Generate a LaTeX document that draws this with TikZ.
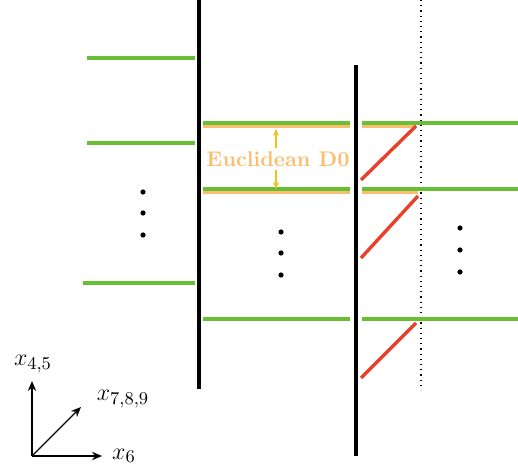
\documentclass[tikz,border=0pt]{standalone}
\usetikzlibrary{arrows.meta}
\definecolor{dgreen}{RGB}{104,190,52}
\definecolor{dorange}{RGB}{250,190,110}
\definecolor{dred}{RGB}{232,64,44}
\definecolor{dyellow}{RGB}{236,196,30}
\tikzset{
  brane/.style={line width=1.6pt,black},
  string/.style={line width=2pt,dgreen},
  ostring/.style={line width=1.6pt,dorange},
  rstring/.style={line width=1.7pt,dred},
  dotpt/.style={circle,fill=black,inner sep=0pt,minimum size=2.6pt},
  axis/.style={line width=0.6pt,-{Stealth[length=5pt,width=4.2pt]}},
  yarrow/.style={line width=0.6pt,dyellow,-{Stealth[length=3.5pt,width=3pt]}},
  axlabel/.style={inner sep=0pt,font=\fontsize{12.2}{14}\selectfont}
}
\begin{document}
\begin{tikzpicture}[x=0.5pt,y=-0.5pt]
\useasboundingbox (0,0) rectangle (518,469);
% branes
\coordinate (B1t) at (199,0); \coordinate (B1b) at (199,389);
\coordinate (B2t) at (356,65); \coordinate (B2b) at (356,456);
\coordinate (Dt) at (421,0); \coordinate (Db) at (421,390);
\draw[brane] (B1t) -- (B1b);
\draw[brane] (B2t) -- (B2b);
\draw[line width=0.6pt,dotted] (Dt) -- (Db);
% left strings
\coordinate (L1a) at (87,58); \coordinate (L1b) at (195,58);
\coordinate (L2a) at (87,143); \coordinate (L2b) at (195,143);
\coordinate (L3a) at (83,283); \coordinate (L3b) at (195,283);
\draw[string] (L1a) -- (L1b);
\draw[string] (L2a) -- (L2b);
\draw[string] (L3a) -- (L3b);
% middle strings
\coordinate (M1a) at (203,126); \coordinate (M1b) at (350,126);
\coordinate (M2a) at (203,192); \coordinate (M2b) at (350,192);
\draw[ostring] (M1a) -- (M1b);
\draw[ostring] (M2a) -- (M2b);
\coordinate (G1a) at (203,123.5); \coordinate (G1b) at (350,123.5);
\coordinate (G2a) at (203,189); \coordinate (G2b) at (350,189);
\coordinate (G3a) at (203,319); \coordinate (G3b) at (350,319);
\draw[string] (G1a) -- (G1b);
\draw[string] (G2a) -- (G2b);
\draw[string] (G3a) -- (G3b);
% right strings
\coordinate (R1o) at (362,126); \coordinate (R1e) at (416,126);
\coordinate (R2o) at (362,192); \coordinate (R2e) at (418,192);
\draw[ostring] (R1o) -- (R1e);
\draw[ostring] (R2o) -- (R2e);
\coordinate (R1a) at (362,123.5); \coordinate (R1b) at (518,123.5);
\coordinate (R2a) at (362,189); \coordinate (R2b) at (518,189);
\coordinate (R3a) at (362,319); \coordinate (R3b) at (518,319);
\draw[string] (R1a) -- (R1b);
\draw[string] (R2a) -- (R2b);
\draw[string] (R3a) -- (R3b);
% red strings
\coordinate (X1a) at (361,180); \coordinate (X1b) at (416,126);
\coordinate (X2a) at (361,258); \coordinate (X2b) at (418,196);
\coordinate (X3a) at (361,378); \coordinate (X3b) at (416,323);
\draw[rstring] (X1a) -- (X1b);
\draw[rstring] (X2a) -- (X2b);
\draw[rstring] (X3a) -- (X3b);
% dots
\foreach \i/\x/\y in {a1/143/192,a2/143/213,a3/143/235,b1/281/232,b2/281/253,b3/281/275,c1/460/228,c2/460/250,c3/460/272}
  \node[dotpt] (d\i) at (\x,\y) {};
% label
\node[text=dorange,font=\fontsize{10.6}{12}\selectfont\bfseries,inner sep=1pt] (lab) at (278,159) {Euclidean D0};
\draw[yarrow] (lab.north -| 276,0) ++(0,-1) -- (276,129);
\draw[yarrow] (lab.south -| 276,0) ++(0,1) -- (276,189);
% axes
\coordinate (O) at (32,456);
\coordinate (Xu) at (32,381);
\coordinate (Xr) at (102,456);
\coordinate (Xd) at (81,407);
\draw[axis] (O) -- (Xu);
\draw[axis] (O) -- (Xr);
\draw[axis] (O) -- (Xd);
\node[axlabel] (t45) at (33,364) {$x_{4,5}$};
\node[axlabel] (t789) at (123,399) {$x_{7,8,9}$};
\node[axlabel] (t6) at (124,456) {$x_6$};
\end{tikzpicture}
\end{document}
